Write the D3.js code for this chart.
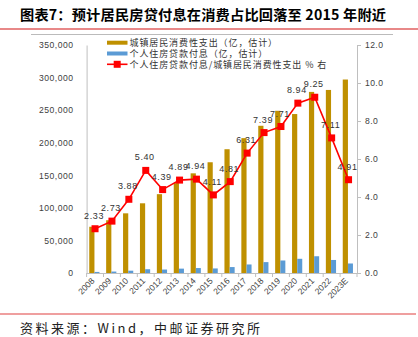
<!DOCTYPE html>
<html><head><meta charset="utf-8">
<script src="https://cdn.jsdelivr.net/npm/d3@7/dist/d3.min.js"></script>
<style>body{margin:0;background:#fff}svg{display:block}</style>
</head><body><svg id="c" width="418" height="337"></svg>
<script>
const categories = ["2008","2009","2010","2011","2012","2013","2014","2015","2016","2017","2018","2019","2020","2021","2022","2023E"];
const consumption = [71000,81000,91600,107000,121000,138000,153000,170000,190000,207000,226000,249000,244000,278000,281000,297000];
const interest = [1650,2200,3550,5800,5300,6700,7600,7000,9100,13100,16700,19200,21800,25700,20000,14600];
const ratio = [2.33,2.73,3.88,5.40,4.39,4.89,4.94,4.11,4.81,6.31,7.39,7.71,8.94,9.25,7.11,4.91];
const leftTicks = [0,50000,100000,150000,200000,250000,300000,350000];
const rightTicks = [0,2,4,6,8,10,12];
const legendLabels = ["城镇居民消费性支出（亿，估计）","个人住房贷款付息（亿，估计）","个人住房贷款付息/城镇居民消费性支出 % 右"];
const title = "图表7：预计居民房贷付息在消费占比回落至 2015 年附近";
const source = "资料来源：Wind，中邮证券研究所";

const svg = d3.select("#c");
const L = 86.6, R = 357, T = 45, B = 273;
const gold = "#BF9000", blue = "#5B9BD5", red = "#FF0000", txt = "#404040";
const cjk = "'Noto Sans CJK SC', sans-serif";
const num = "'Liberation Sans', Arial, sans-serif";

// header
svg.append("text").attr("x",20).attr("y",20).attr("font-family",cjk).attr("font-weight","bold")
  .attr("font-size",14.2).attr("letter-spacing",0.2).attr("fill","#000").text(title);
svg.append("line").attr("x1",0).attr("x2",418).attr("y1",29).attr("y2",29).attr("stroke","#E06060").attr("stroke-width",1.6);
svg.append("line").attr("x1",31).attr("x2",393).attr("y1",34.5).attr("y2",34.5).attr("stroke","#BBBBBB").attr("stroke-width",1);

// footer
svg.append("line").attr("x1",0).attr("x2",416).attr("y1",314).attr("y2",314).attr("stroke","#E04040").attr("stroke-width",1.2);
svg.append("text").attr("x",20).attr("y",333).attr("font-family",cjk).attr("font-size",13)
  .attr("letter-spacing",2.5).attr("fill","#222").text(source);

const x = d3.scaleBand().domain(categories).range([L,R]);
const bw = x.bandwidth();
const yL = d3.scaleLinear().domain([0,350000]).range([B,T]);
const yR = d3.scaleLinear().domain([0,12]).range([B,T]);

// bars
svg.append("g").selectAll("rect").data(categories).join("rect")
  .attr("x",(d)=>x(d)+bw/2-5.8).attr("width",5.2)
  .attr("y",(d,i)=>yL(consumption[i])).attr("height",(d,i)=>B-yL(consumption[i]))
  .attr("fill",gold);
svg.append("g").selectAll("rect").data(categories).join("rect")
  .attr("x",(d)=>x(d)+bw/2-0.6).attr("width",5)
  .attr("y",(d,i)=>yL(interest[i])).attr("height",(d,i)=>B-yL(interest[i]))
  .attr("fill",blue);

// left axis
const gl = svg.append("g").attr("transform",`translate(${L},0)`)
  .call(d3.axisLeft(yL).tickValues(leftTicks).tickSize(0).tickPadding(13).tickFormat(d3.format(",")));
gl.select(".domain").attr("stroke","#BFBFBF");
gl.selectAll("text").attr("font-family",num).attr("font-size",8.6).attr("letter-spacing",0.5).attr("fill",txt);

// right axis
const gr = svg.append("g").attr("transform",`translate(${R},0)`)
  .call(d3.axisRight(yR).tickValues(rightTicks).tickSize(4).tickPadding(4).tickFormat(d3.format(".1f")));
gr.select(".domain").attr("stroke","#BFBFBF");
gr.selectAll(".tick line").attr("stroke","#BFBFBF");
gr.selectAll("text").attr("font-family",num).attr("font-size",8.6).attr("letter-spacing",0.4).attr("fill",txt);

// x axis
const gx = svg.append("g").attr("transform",`translate(0,${B})`)
  .call(d3.axisBottom(x).tickSize(0).tickFormat(""));
gx.select(".domain").attr("stroke","#BFBFBF");
const xl = svg.append("g").selectAll("g").data(categories).join("g")
  .attr("transform",d=>`translate(${x(d)+bw/2},${B+8.5})`);
xl.append("text").attr("transform","rotate(-45)")
  .attr("text-anchor","end").attr("font-family",num).attr("font-size",8.5).attr("fill",txt).text(d=>d);
const bounds = categories.map(d=>x(d)).concat([R]);
svg.append("g").selectAll("line").data(bounds).join("line")
  .attr("x1",d=>d).attr("x2",d=>d).attr("y1",B).attr("y2",B+4).attr("stroke","#BFBFBF");

// line
const line = d3.line().x((d,i)=>x(categories[i])+bw/2).y(d=>yR(d));
svg.append("path").datum(ratio).attr("d",line).attr("fill","none").attr("stroke",red).attr("stroke-width",1.6);
svg.append("g").selectAll("rect").data(ratio).join("rect")
  .attr("x",(d,i)=>x(categories[i])+bw/2-3.5).attr("y",d=>yR(d)-3.5)
  .attr("width",7).attr("height",7).attr("fill",red);
svg.append("g").selectAll("text").data(ratio).join("text")
  .attr("x",(d,i)=>x(categories[i])+bw/2-1).attr("y",d=>yR(d)-10)
  .attr("text-anchor","middle").attr("font-family",num).attr("font-size",9).attr("letter-spacing",0.6)
  .attr("fill","#333").text(d=>d.toFixed(2));

// legend
const lg = svg.append("g");
const ly = [42.7,53.5,64.3];
lg.append("rect").attr("x",107).attr("y",ly[0]-2).attr("width",20.5).attr("height",4).attr("fill",gold);
lg.append("rect").attr("x",107).attr("y",ly[1]-2).attr("width",20.5).attr("height",4).attr("fill",blue);
lg.append("line").attr("x1",107).attr("x2",127.5).attr("y1",ly[2]).attr("y2",ly[2]).attr("stroke",red).attr("stroke-width",1.6);
lg.append("rect").attr("x",117.2-3.5).attr("y",ly[2]-3.5).attr("width",7).attr("height",7).attr("fill",red);
lg.selectAll("text").data(legendLabels).join("text")
  .attr("x",129.5).attr("y",(d,i)=>ly[i]+3.3).attr("font-family",cjk).attr("font-size",9)
  .attr("letter-spacing",0.9).attr("fill","#333").text(d=>d);
</script></body></html>
